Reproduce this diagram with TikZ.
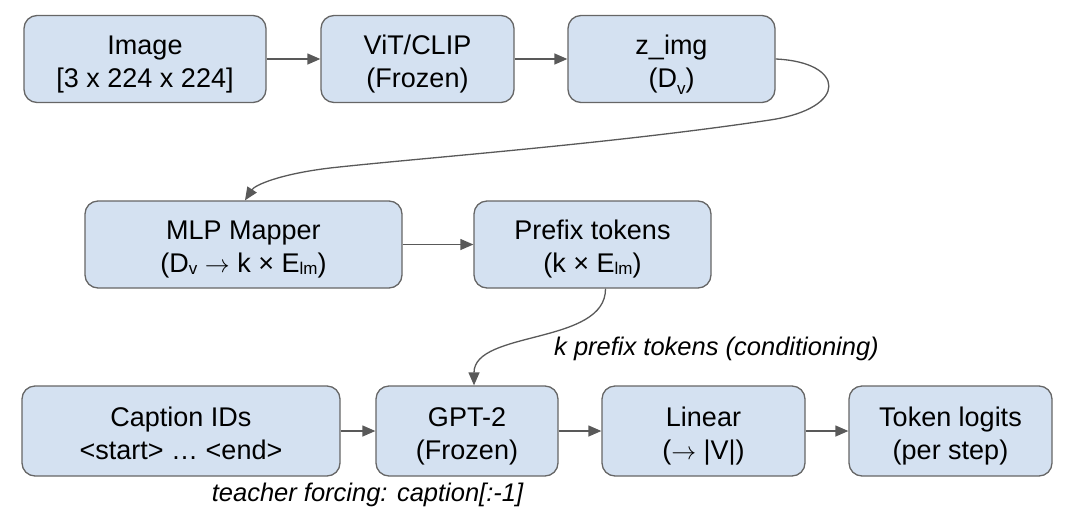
\documentclass[tikz,border=0pt]{standalone}
\usepackage{fontspec}
\setmainfont{Liberation Sans}
\usetikzlibrary{arrows.meta}
\definecolor{boxfill}{HTML}{D4E1F1}
\definecolor{boxline}{HTML}{666666}
\definecolor{arrowc}{HTML}{595959}
\tikzset{
  box/.style={draw=boxline, fill=boxfill, line width=1.3pt, rounded corners=13pt,
    align=center, inner sep=0pt, minimum height=87pt,
    font=\fontsize{27}{33}\selectfont},
  conn/.style={draw=arrowc, line width=1.3pt, -{Triangle[length=13pt,width=11pt]}},
  lbl/.style={font=\fontsize{25.5}{30}\selectfont\itshape, inner sep=0pt}
}
\newcommand{\twol}[2]{\rule{0pt}{31pt}#1\\{}#2\rule[-8pt]{0pt}{8pt}}
\newcommand{\smsub}[1]{\raisebox{-2pt}{\fontsize{17}{17}\selectfont #1}}
\newcommand{\lowsub}[1]{\raisebox{-7pt}{\fontsize{17}{17}\selectfont #1}}
\newcommand{\arr}{$\rightarrow$}
\begin{document}
\begin{tikzpicture}[x=1pt,y=-1pt]
\useasboundingbox (0,0) rectangle (1084,520);
\node[box, minimum width=242pt] (img) at (145,59) {\twol{Image}{[3 x 224 x 224]}};
\node[box, minimum width=193pt] (vit) at (417.5,59) {\twol{ViT/CLIP}{(Frozen)}};
\node[box, minimum width=207pt] (z) at (671.5,59) {\twol{z\_img}{(D\lowsub{v})}};
\node[box, minimum width=317pt] (mlp) at (243.5,244.5) {\twol{MLP Mapper}{(D\smsub{v} \arr{} k × E\smsub{lm})}};
\node[box, minimum width=237pt] (pre) at (592.5,244.5) {\twol{Prefix tokens}{(k × E\smsub{lm})}};
\node[box, minimum width=318pt, minimum height=90pt] (cap) at (181,431) {\twol{Caption IDs}{<start> … <end>}};
\node[box, minimum width=182pt, minimum height=90pt] (gpt) at (467,431) {\twol{GPT-2}{(Frozen)}};
\node[box, minimum width=203pt, minimum height=90pt] (lin) at (703.5,431) {\twol{Linear}{(\arr{} |V|)}};
\node[box, minimum width=203pt, minimum height=90pt] (tok) at (950.5,431) {\twol{Token logits}{(per step)}};
\node[lbl] (klab) at (716.5,349) {k prefix tokens (conditioning)};
\node[lbl] (tf) at (367.5,495) {teacher forcing: caption[:-1]};
\draw[conn] (img) -- (vit);
\draw[conn] (vit) -- (z);
\draw[conn] (z.east) .. controls (845,62) and (850,108) .. (770,120)
  .. controls (610,144) and (420,158) .. (330,168)
  .. controls (280,174) and (255,185) .. ([xshift=1.5pt]mlp.north);
\draw[conn] (mlp) -- (pre);
\draw[conn] ([xshift=13pt]pre.south) .. controls (606,345) and (474,330) .. ([xshift=7pt]gpt.north);
\draw[conn] (cap) -- (gpt);
\draw[conn] (gpt) -- (lin);
\draw[conn] (lin) -- (tok);
\end{tikzpicture}
\end{document}
